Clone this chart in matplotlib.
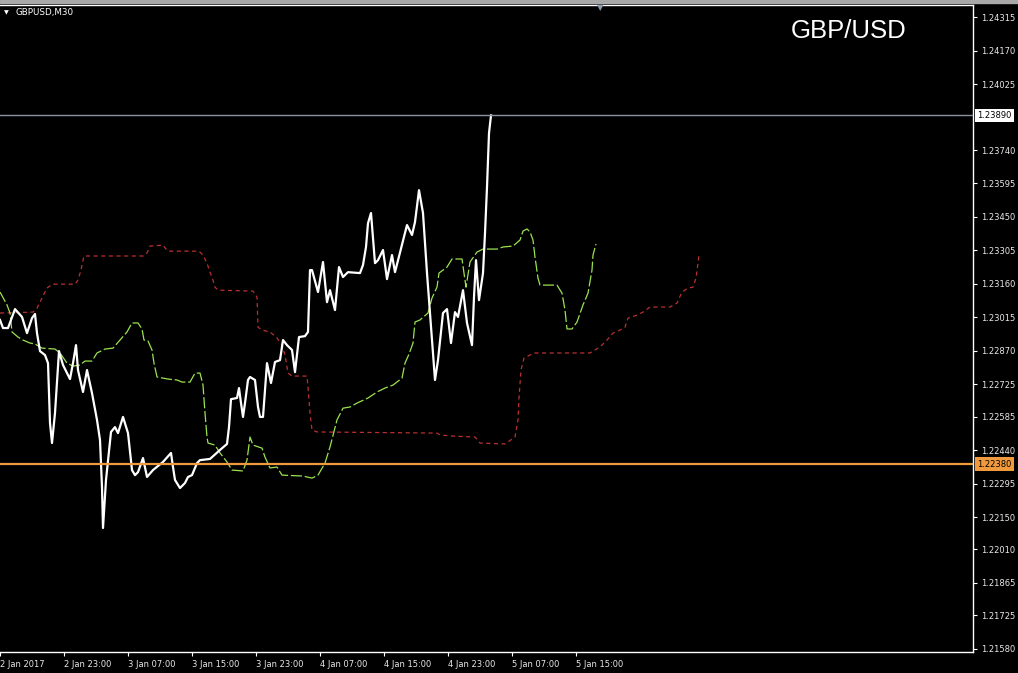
import matplotlib
matplotlib.use("Agg")
import matplotlib.pyplot as plt
from matplotlib.patches import Rectangle

plt.rcParams["lines.scale_dashes"] = False

# bar index (30 min bars, bar 0 = 2 Jan 15:00) and prices
close_x = [0, 0.75, 2, 3.75, 5.5, 6.75, 8, 8.75, 9.25, 10, 11.25, 12, 12.5, 13, 13.75, 14.75,
           15.75, 17.5, 18.25, 19, 19.5, 20.75, 21.75, 23, 24.25, 25, 25.5, 25.75, 26.5, 27.75,
           28.75, 29.5, 30.75, 32, 33, 33.75, 34.5, 35.75, 36.75, 38.25, 40.75, 42.75, 43.25,
           43.75, 45, 46.25, 47, 48, 49.25, 50, 52.5, 55, 56.75, 57.25, 57.75, 59.25, 59.75,
           60.25, 60.75, 61.25, 62, 62.5, 63.75, 64.5, 65, 65.75, 66.75, 67.75, 68.75, 70, 70.75,
           71.75, 73, 73.75, 74.75, 76.25, 77, 77.5, 78, 79.5, 80.75, 81.75, 82.5, 83.75, 84.75,
           85.75, 87, 90, 90.75, 91.5, 92, 92.75, 93.75, 94.5, 95.75, 96.75, 98, 98.75, 101.75,
           103, 103.75, 104.75, 105.75, 106.75, 108, 108.75, 109.5, 110.75, 111.75, 112.75,
           113.75, 114.5, 115.75, 116.75, 118, 118.5, 119, 119.75, 120.75, 121.25, 121.75,
           122.25, 122.75]
close_y = [1.23004, 1.22969, 1.22969, 1.23051, 1.23017, 1.22947, 1.23012, 1.23030, 1.22947, 1.22869,
           1.22852, 1.22817, 1.22558, 1.22471, 1.22601, 1.22869, 1.22809, 1.22748, 1.22817, 1.22895,
           1.22787, 1.22692, 1.22787, 1.22687, 1.22571, 1.22484, 1.22280, 1.22103, 1.22311, 1.22519,
           1.22540, 1.22514, 1.22584, 1.22514, 1.22354, 1.22332, 1.22345, 1.22406, 1.22324, 1.22354,
           1.22389, 1.22428, 1.22367, 1.22311, 1.22276, 1.22298, 1.22324, 1.22332, 1.22384, 1.22397,
           1.22402, 1.22441, 1.22467, 1.22540, 1.22661, 1.22666, 1.22709, 1.22644, 1.22584, 1.22644,
           1.22744, 1.22757, 1.22744, 1.22627, 1.22584, 1.22584, 1.22817, 1.22731, 1.22822, 1.22830,
           1.22917, 1.22895, 1.22874, 1.22778, 1.22930, 1.22934, 1.22952, 1.23220, 1.23220, 1.23125,
           1.23255, 1.23081, 1.23133, 1.23047, 1.23233, 1.23190, 1.23211, 1.23207, 1.23242, 1.23320,
           1.23423, 1.23467, 1.23250, 1.23263, 1.23307, 1.23181, 1.23285, 1.23211, 1.23415, 1.23372,
           1.23428, 1.23566, 1.23467, 1.23207, 1.22917, 1.22744, 1.22830, 1.23034, 1.23051, 1.22904,
           1.23038, 1.23017, 1.23133, 1.22991, 1.22895, 1.23103, 1.23263, 1.23090, 1.23207, 1.23380,
           1.23579, 1.23813, 1.23890]

green_x = [0, 1.75, 2.5, 3, 4.5, 5.75, 7.5, 8.75, 10.5, 13.75, 15, 16.75, 18.25, 20, 21.25, 23,
           24.25, 26.25, 28.25, 30, 31.75, 33, 34.5, 35.5, 36, 37, 38, 38.5, 39.25, 40.75, 42,
           44.25, 45.5, 47.5, 48.75, 50, 50.75, 51.25, 51.75, 52, 53.75, 55, 56.75, 58, 60.75,
           61.75, 62.5, 63.25, 65.5, 66.25, 67.5, 69.25, 70.5, 75.75, 78, 79.5, 81.25, 82.5,
           84.25, 85.75, 87.5, 89.25, 92, 94.25, 96.25, 98.25, 100.5, 101.25, 102.25, 103.25,
           103.75, 105, 107, 108, 109.25, 109.75, 111.75, 113, 115.5, 116.5, 117.5, 119.25,
           120.75, 124.25, 125.75, 128.25, 130, 130.75, 131.75, 132.5, 133.25, 133.75, 134.5,
           135, 139.25, 140.5, 141.25, 141.75, 143, 144.25, 145.75, 147, 148, 148.25, 149]
green_y = [1.23125, 1.23069, 1.23034, 1.22952, 1.22930, 1.22917, 1.22904, 1.22900, 1.22882, 1.22878,
           1.22861, 1.22817, 1.22804, 1.22809, 1.22826, 1.22826, 1.22861, 1.22878, 1.22882, 1.22917,
           1.22952, 1.22991, 1.22991, 1.22965, 1.22917, 1.22913, 1.22874, 1.22817, 1.22757, 1.22752,
           1.22748, 1.22744, 1.22735, 1.22735, 1.22774, 1.22774, 1.22722, 1.22601, 1.22497, 1.22471,
           1.22462, 1.22428, 1.22389, 1.22354, 1.22350, 1.22397, 1.22497, 1.22462, 1.22449, 1.22410,
           1.22363, 1.22367, 1.22332, 1.22328, 1.22319, 1.22332, 1.22384, 1.22454, 1.22571, 1.22622,
           1.22627, 1.22644, 1.22666, 1.22692, 1.22709, 1.22722, 1.22752, 1.22817, 1.22856, 1.22904,
           1.22995, 1.23004, 1.23034, 1.23099, 1.23146, 1.23207, 1.23233, 1.23268, 1.23268, 1.23146,
           1.23255, 1.23298, 1.23311, 1.23311, 1.23320, 1.23324, 1.23350, 1.23389, 1.23398, 1.23385,
           1.23350, 1.23276, 1.23185, 1.23155, 1.23155, 1.23120, 1.23047, 1.22965, 1.22965, 1.22995,
           1.23069, 1.23120, 1.23220, 1.23285, 1.23333]

red_x = [0, 8.25, 9.25, 10.5, 11.75, 13, 18.75, 19.5, 20.25, 20.75, 21, 35.75, 36.75, 37.5, 40.75,
         41.5, 42, 49.75, 50.75, 51.75, 52.5, 53.25, 53.75, 54.5, 63.25, 64.25, 64.5, 65.5, 67.5,
         69.25, 70.5, 71.25, 72, 73, 76.75, 77, 77.5, 78, 79.25, 109.25, 110, 113.25, 118.75, 120,
         126.25, 128.75, 129.5, 129.75, 130.25, 131, 133.5, 147.5, 150, 151.75, 153.25, 155, 156.25,
         157, 159.25, 160.75, 162.5, 167.5, 169.25, 170.5, 172, 173.25, 174, 174.5, 174.75]
red_y = [1.23034, 1.23038, 1.23055, 1.23099, 1.23142, 1.23159, 1.23159, 1.23177, 1.23220, 1.23263,
         1.23281, 1.23281, 1.23294, 1.23324, 1.23328, 1.23311, 1.23302, 1.23302, 1.23285, 1.23250,
         1.23211, 1.23177, 1.23146, 1.23133, 1.23129, 1.23103, 1.22973, 1.22960, 1.22952, 1.22926,
         1.22895, 1.22852, 1.22774, 1.22761, 1.22761, 1.22713, 1.22601, 1.22527, 1.22519, 1.22514,
         1.22506, 1.22501, 1.22497, 1.22471, 1.22467, 1.22497, 1.22571, 1.22666, 1.22787, 1.22839,
         1.22861, 1.22861, 1.22887, 1.22917, 1.22947, 1.22960, 1.22973, 1.23012, 1.23025, 1.23038,
         1.23060, 1.23060, 1.23077, 1.23125, 1.23142, 1.23146, 1.23185, 1.23250, 1.23289]

level_hi = 1.23890
level_lo = 1.22380

price_ticks = ["1.24315", "1.24170", "1.24025", "1.23740", "1.23595", "1.23450", "1.23305",
               "1.23160", "1.23015", "1.22870", "1.22725", "1.22585", "1.22440", "1.22295",
               "1.22150", "1.22010", "1.21865", "1.21725", "1.21580"]
time_ticks = [0, 16, 32, 48, 64, 80, 96, 112, 128, 144]
time_labels = ["2 Jan 2017", "2 Jan 23:00", "3 Jan 07:00", "3 Jan 15:00", "3 Jan 23:00",
               "4 Jan 07:00", "4 Jan 15:00", "4 Jan 23:00", "5 Jan 07:00", "5 Jan 15:00"]

W, H = 1018, 673
fig = plt.figure(figsize=(W / 100, H / 100), dpi=100, facecolor="black")
ax = fig.add_axes([0, 21 / H, 973 / W, (652 - 5) / H], facecolor="black")

ax.plot(red_x, red_y, color="#B8312F", lw=0.9, ls=(0, (3, 2.5)), zorder=2)
ax.plot(green_x, green_y, color="#9AE34F", lw=0.9, ls=(0, (8, 2)), zorder=2)
ax.plot(close_x, close_y, color="white", lw=1.6, zorder=3)
ax.axhline(level_hi, color="#8a94a0", lw=1, zorder=4)
ax.axhline(level_lo, color="#F09A3E", lw=1.6, zorder=4)

ax.set_xlim(0, 243.25)
ax.set_ylim(1.21566, 1.24368)

ax.yaxis.tick_right()
ax.set_yticks([float(t) for t in price_ticks])
ax.set_yticklabels(price_ticks)
ax.set_xticks(time_ticks)
ax.set_xticklabels(time_labels, ha="left")
ax.tick_params(colors="white", labelcolor="#e8e8e8", labelsize=6, length=3, width=0.8,
               direction="out", pad=3)
for s in ["top", "right", "bottom"]:
    ax.spines[s].set_color("white")
    ax.spines[s].set_linewidth(1)
ax.spines["left"].set_visible(False)

# price labels on the axis
for lvl, bg in [(level_hi, "white"), (level_lo, "#F09A3E")]:
    ax.annotate(f"{lvl:.5f}", xy=(1, lvl), xycoords=ax.get_yaxis_transform(),
                xytext=(3, 0), textcoords="offset points", ha="left", va="center",
                fontsize=6, color="black", annotation_clip=False,
                bbox=dict(boxstyle="square,pad=0.25", fc=bg, ec="none"))

# window header
fig.patches.append(Rectangle((0, 1 - 2.5 / H), 1, 2.5 / H, transform=fig.transFigure,
                             color="#a8a8a8", zorder=0))
fig.text(4 / W, 1 - 13 / H, "▼", color="white", fontsize=4.5, va="center")
fig.text(15 / W, 1 - 13 / H, "GBPUSD,M30", color="white", fontsize=6.3, va="center")
fig.text(849 / W, 1 - 31 / H, "GBP/USD", color="white", fontsize=18.5,
         family="Liberation Sans", ha="center", va="center")
fig.text(600 / W, 1 - 8 / H, "▼", color="#8a9aaa", fontsize=6, ha="center", va="center")

fig.savefig("out.png", dpi=100, facecolor="black")
